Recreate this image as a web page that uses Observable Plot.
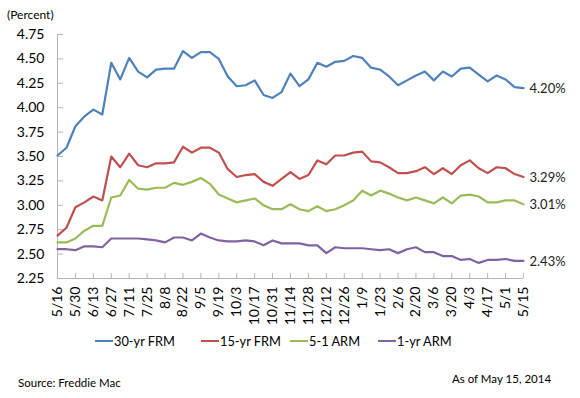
<!DOCTYPE html>
<html>
<head>
<meta charset="utf-8">
<script src="https://cdn.jsdelivr.net/npm/d3@7"></script>
<script src="https://cdn.jsdelivr.net/npm/@observablehq/plot@0.6"></script>
<style>
  body { margin: 0; background: #fff; }
  #wrap { position: relative; width: 580px; height: 398px; font-family: Lato, "Open Sans", sans-serif; color: #000; overflow: hidden; }
  #chart svg { position: absolute; left: 0; top: 0; }
  .abs { position: absolute; white-space: nowrap; }
  .leg { position: absolute; top: 333px; font-size: 12.8px; display: flex; align-items: center; white-space: nowrap; }
  .leg i { display: inline-block; width: 18px; height: 2px; margin-right: 1px; }
</style>
</head>
<body>
<div id="wrap">
  <div id="chart"></div>
  <div class="abs" style="left:7px;top:7px;font-size:12px;">(Percent)</div>
  <div id="legend"></div>
  <div class="abs" style="left:18px;top:376px;font-size:11.5px;">Source: Freddie Mac</div>
  <div class="abs" style="left:452px;top:372px;font-size:11.5px;">As of May 15, 2014</div>
</div>
<script>
const weeks = ["5/16","5/23","5/30","6/6","6/13","6/20","6/27","7/3","7/11","7/18","7/25","8/1","8/8","8/15","8/22","8/29","9/5","9/12","9/19","9/26","10/3","10/10","10/17","10/24","10/31","11/7","11/14","11/21","11/28","12/5","12/12","12/19","12/26","1/2","1/9","1/16","1/23","1/30","2/6","2/13","2/20","2/27","3/6","3/13","3/20","3/27","4/3","4/10","4/17","4/24","5/1","5/8","5/15"];
const fixed30 = [3.51,3.59,3.81,3.91,3.98,3.93,4.46,4.29,4.51,4.37,4.31,4.39,4.40,4.40,4.58,4.51,4.57,4.57,4.50,4.32,4.22,4.23,4.28,4.13,4.10,4.16,4.35,4.22,4.29,4.46,4.42,4.47,4.48,4.53,4.51,4.41,4.39,4.32,4.23,4.28,4.33,4.37,4.28,4.37,4.32,4.40,4.41,4.34,4.27,4.33,4.29,4.21,4.20];
const fixed15 = [2.69,2.77,2.98,3.03,3.09,3.05,3.50,3.39,3.53,3.41,3.39,3.43,3.43,3.44,3.60,3.54,3.59,3.59,3.54,3.37,3.29,3.31,3.32,3.24,3.20,3.27,3.34,3.27,3.31,3.46,3.42,3.51,3.51,3.54,3.55,3.45,3.44,3.39,3.33,3.33,3.35,3.39,3.32,3.38,3.32,3.41,3.46,3.38,3.33,3.39,3.38,3.32,3.29];
const arm51 = [2.62,2.62,2.66,2.74,2.79,2.79,3.08,3.10,3.26,3.17,3.16,3.18,3.18,3.23,3.21,3.24,3.28,3.22,3.11,3.07,3.03,3.05,3.07,3.00,2.96,2.96,3.01,2.96,2.94,2.99,2.94,2.96,3.00,3.05,3.15,3.10,3.15,3.12,3.08,3.05,3.08,3.05,3.02,3.08,3.02,3.10,3.11,3.09,3.03,3.03,3.05,3.05,3.01];
const arm1 = [2.55,2.55,2.54,2.58,2.58,2.57,2.66,2.66,2.66,2.66,2.65,2.64,2.62,2.67,2.67,2.64,2.71,2.67,2.64,2.63,2.63,2.64,2.63,2.59,2.64,2.61,2.61,2.61,2.59,2.59,2.51,2.57,2.56,2.56,2.56,2.55,2.54,2.55,2.51,2.55,2.57,2.52,2.52,2.48,2.48,2.44,2.45,2.41,2.44,2.44,2.45,2.43,2.43];
const seriesNames = ["30-yr FRM","15-yr FRM","5-1 ARM","1-yr ARM"];
const seriesColors = ["#4F81BD","#C0504D","#9BBB59","#8064A2"];
const yTicks = [2.25,2.50,2.75,3.00,3.25,3.50,3.75,4.00,4.25,4.50,4.75];
const xTickLabels = weeks.filter((d, i) => i % 2 === 0);

const seriesValues = [fixed30, fixed15, arm51, arm1];
const data = seriesValues.flatMap((vals, s) => vals.map((v, i) => ({week: weeks[i], value: v, series: seriesNames[s]})));
const lastPoints = seriesValues.map((vals, s) => ({week: weeks[weeks.length - 1], value: vals[vals.length - 1], series: seriesNames[s]}));

const W = 580, H = 325, mL = 57, mR = 57, mT = 34, mB = 47;
const frameW = W - mL - mR, frameH = H - mT - mB;
const axisColor = "#b5b5b5";

const chart = Plot.plot({
  width: W, height: H,
  marginLeft: mL, marginRight: mR, marginTop: mT, marginBottom: mB,
  style: {fontFamily: "Lato, 'Open Sans', sans-serif", fontSize: "13px", color: "#000", background: "transparent", overflow: "visible"},
  x: {type: "point", domain: weeks, padding: 0, label: null},
  y: {domain: [2.25, 4.75], label: null},
  color: {domain: seriesNames, range: seriesColors},
  marks: [
    Plot.ruleX([weeks[0]], {stroke: axisColor}),
    Plot.ruleY([2.25], {stroke: axisColor}),
    Plot.tickY(yTicks, {y: d => d, stroke: axisColor, insetRight: frameW - 6}),
    Plot.tickX(xTickLabels.slice(1), {x: d => d, stroke: axisColor, insetTop: frameH - 5}),
    Plot.axisY({ticks: yTicks, tickSize: 0, tickPadding: 13, tickFormat: d3.format(".2f"), fontSize: 14, fill: "#000", label: null}),
    Plot.axisX({ticks: xTickLabels, tickSize: 0, tickPadding: 8, tickRotate: -90, fontSize: 14, fill: "#000", label: null}),
    Plot.line(data, {x: "week", y: "value", z: "series", stroke: "series", strokeWidth: 2.2, curve: "linear"}),
    Plot.text(lastPoints, {x: "week", y: "value", text: d => d.value.toFixed(2) + "%", textAnchor: "start", dx: 6, dy: 1, fontSize: 13, fill: "#222"})
  ]
});
document.getElementById("chart").appendChild(chart);

const legendLefts = [95, 201, 290, 378];
const legend = document.getElementById("legend");
seriesNames.forEach((name, i) => {
  const el = document.createElement("div");
  el.className = "leg";
  el.style.left = legendLefts[i] + "px";
  el.innerHTML = `<i style="background:${seriesColors[i]}"></i><span>${name}</span>`;
  legend.appendChild(el);
});
</script>
</body>
</html>
